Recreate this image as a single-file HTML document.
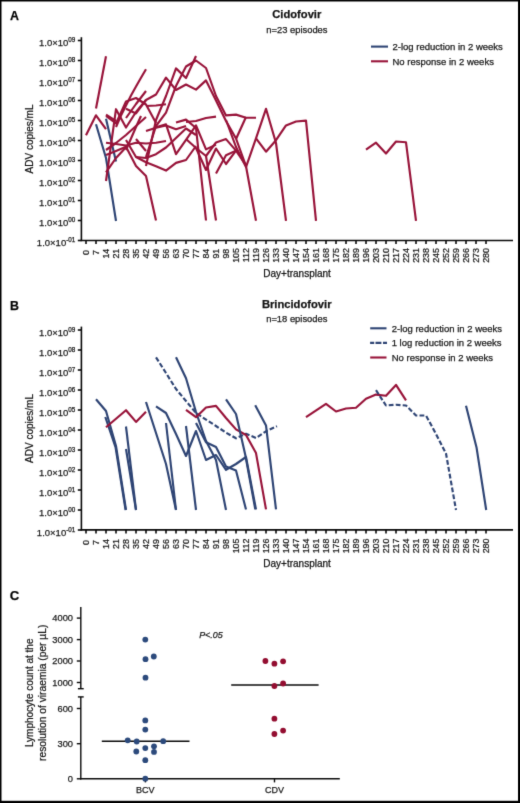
<!DOCTYPE html><html><head><meta charset="utf-8"><style>html,body{margin:0;padding:0;background:#fff}svg{display:block}text{font-family:"Liberation Sans",sans-serif;stroke:#1a1a1a;stroke-width:0.25px}</style></head><body>
<svg width="520" height="803" viewBox="0 0 520 803"><defs><filter id="bl" x="0" y="0" width="1" height="1" color-interpolation-filters="sRGB"><feConvolveMatrix order="3" kernelMatrix="0.0113 0.0838 0.0113 0.0838 0.6196 0.0838 0.0113 0.0838 0.0113" edgeMode="duplicate"/></filter></defs><g filter="url(#bl)">
<rect x="0" y="0" width="520" height="803" fill="#000"/>
<rect x="1.5" y="1.5" width="516.5" height="799.3" fill="#fff"/>
<g font-weight="bold" font-size="12.4" fill="#000">
<text x="9.9" y="20.2">A</text><text x="9.9" y="309.5">B</text><text x="9.7" y="599.6" font-size="13.2">C</text>
</g>
<g stroke="#0a0a0a" stroke-width="1.6" fill="none">
<line x1="81.4" y1="37.2" x2="81.4" y2="241.1"/>
<line x1="80.6" y1="240.5" x2="513" y2="240.5"/>
<line x1="77.8" y1="40.50" x2="81.4" y2="40.50"/>
<line x1="77.8" y1="60.50" x2="81.4" y2="60.50"/>
<line x1="77.8" y1="80.50" x2="81.4" y2="80.50"/>
<line x1="77.8" y1="100.50" x2="81.4" y2="100.50"/>
<line x1="77.8" y1="120.50" x2="81.4" y2="120.50"/>
<line x1="77.8" y1="140.50" x2="81.4" y2="140.50"/>
<line x1="77.8" y1="160.50" x2="81.4" y2="160.50"/>
<line x1="77.8" y1="180.50" x2="81.4" y2="180.50"/>
<line x1="77.8" y1="200.50" x2="81.4" y2="200.50"/>
<line x1="77.8" y1="220.50" x2="81.4" y2="220.50"/>
<line x1="77.8" y1="240.50" x2="81.4" y2="240.50"/>
<line x1="86" y1="240.5" x2="86" y2="244.1"/>
<line x1="96" y1="240.5" x2="96" y2="244.1"/>
<line x1="106" y1="240.5" x2="106" y2="244.1"/>
<line x1="116" y1="240.5" x2="116" y2="244.1"/>
<line x1="126" y1="240.5" x2="126" y2="244.1"/>
<line x1="136" y1="240.5" x2="136" y2="244.1"/>
<line x1="146" y1="240.5" x2="146" y2="244.1"/>
<line x1="156" y1="240.5" x2="156" y2="244.1"/>
<line x1="166" y1="240.5" x2="166" y2="244.1"/>
<line x1="176" y1="240.5" x2="176" y2="244.1"/>
<line x1="186" y1="240.5" x2="186" y2="244.1"/>
<line x1="196" y1="240.5" x2="196" y2="244.1"/>
<line x1="206" y1="240.5" x2="206" y2="244.1"/>
<line x1="216" y1="240.5" x2="216" y2="244.1"/>
<line x1="226" y1="240.5" x2="226" y2="244.1"/>
<line x1="236" y1="240.5" x2="236" y2="244.1"/>
<line x1="246" y1="240.5" x2="246" y2="244.1"/>
<line x1="256" y1="240.5" x2="256" y2="244.1"/>
<line x1="266" y1="240.5" x2="266" y2="244.1"/>
<line x1="276" y1="240.5" x2="276" y2="244.1"/>
<line x1="286" y1="240.5" x2="286" y2="244.1"/>
<line x1="296" y1="240.5" x2="296" y2="244.1"/>
<line x1="306" y1="240.5" x2="306" y2="244.1"/>
<line x1="316" y1="240.5" x2="316" y2="244.1"/>
<line x1="326" y1="240.5" x2="326" y2="244.1"/>
<line x1="336" y1="240.5" x2="336" y2="244.1"/>
<line x1="346" y1="240.5" x2="346" y2="244.1"/>
<line x1="356" y1="240.5" x2="356" y2="244.1"/>
<line x1="366" y1="240.5" x2="366" y2="244.1"/>
<line x1="376" y1="240.5" x2="376" y2="244.1"/>
<line x1="386" y1="240.5" x2="386" y2="244.1"/>
<line x1="396" y1="240.5" x2="396" y2="244.1"/>
<line x1="406" y1="240.5" x2="406" y2="244.1"/>
<line x1="416" y1="240.5" x2="416" y2="244.1"/>
<line x1="426" y1="240.5" x2="426" y2="244.1"/>
<line x1="436" y1="240.5" x2="436" y2="244.1"/>
<line x1="446" y1="240.5" x2="446" y2="244.1"/>
<line x1="456" y1="240.5" x2="456" y2="244.1"/>
<line x1="466" y1="240.5" x2="466" y2="244.1"/>
<line x1="476" y1="240.5" x2="476" y2="244.1"/>
<line x1="486" y1="240.5" x2="486" y2="244.1"/>
</g>
<g font-size="9.5" fill="#1a1a1a" text-anchor="end">
<text x="75.3" y="46.00">1.0×10<tspan font-size="6.3" dy="-3.7">09</tspan></text>
<text x="75.3" y="66.00">1.0×10<tspan font-size="6.3" dy="-3.7">08</tspan></text>
<text x="75.3" y="86.00">1.0×10<tspan font-size="6.3" dy="-3.7">07</tspan></text>
<text x="75.3" y="106.00">1.0×10<tspan font-size="6.3" dy="-3.7">06</tspan></text>
<text x="75.3" y="126.00">1.0×10<tspan font-size="6.3" dy="-3.7">05</tspan></text>
<text x="75.3" y="146.00">1.0×10<tspan font-size="6.3" dy="-3.7">04</tspan></text>
<text x="75.3" y="166.00">1.0×10<tspan font-size="6.3" dy="-3.7">03</tspan></text>
<text x="75.3" y="186.00">1.0×10<tspan font-size="6.3" dy="-3.7">02</tspan></text>
<text x="75.3" y="206.00">1.0×10<tspan font-size="6.3" dy="-3.7">01</tspan></text>
<text x="75.3" y="226.00">1.0×10<tspan font-size="6.3" dy="-3.7">00</tspan></text>
<text x="75.3" y="246.00">1.0×10<tspan font-size="6.3" dy="-3.7">-01</tspan></text>
</g>
<g font-size="8.9" fill="#1a1a1a" text-anchor="end">
<text transform="translate(89.3,250.1) rotate(-90)">0</text>
<text transform="translate(99.3,250.1) rotate(-90)">7</text>
<text transform="translate(109.3,248.7) rotate(-90)">14</text>
<text transform="translate(119.3,248.7) rotate(-90)">21</text>
<text transform="translate(129.3,248.7) rotate(-90)">28</text>
<text transform="translate(139.3,248.7) rotate(-90)">35</text>
<text transform="translate(149.3,248.7) rotate(-90)">42</text>
<text transform="translate(159.3,248.7) rotate(-90)">49</text>
<text transform="translate(169.3,248.7) rotate(-90)">56</text>
<text transform="translate(179.3,248.7) rotate(-90)">63</text>
<text transform="translate(189.3,248.7) rotate(-90)">70</text>
<text transform="translate(199.3,248.7) rotate(-90)">77</text>
<text transform="translate(209.3,248.7) rotate(-90)">84</text>
<text transform="translate(219.3,248.7) rotate(-90)">91</text>
<text transform="translate(229.3,248.7) rotate(-90)">98</text>
<text transform="translate(239.3,248.0) rotate(-90)">105</text>
<text transform="translate(249.3,248.0) rotate(-90)">112</text>
<text transform="translate(259.3,248.0) rotate(-90)">119</text>
<text transform="translate(269.3,248.0) rotate(-90)">126</text>
<text transform="translate(279.3,248.0) rotate(-90)">133</text>
<text transform="translate(289.3,248.0) rotate(-90)">140</text>
<text transform="translate(299.3,248.0) rotate(-90)">147</text>
<text transform="translate(309.3,248.0) rotate(-90)">154</text>
<text transform="translate(319.3,248.0) rotate(-90)">161</text>
<text transform="translate(329.3,248.0) rotate(-90)">168</text>
<text transform="translate(339.3,248.0) rotate(-90)">175</text>
<text transform="translate(349.3,248.0) rotate(-90)">182</text>
<text transform="translate(359.3,248.0) rotate(-90)">189</text>
<text transform="translate(369.3,248.0) rotate(-90)">196</text>
<text transform="translate(379.3,248.0) rotate(-90)">203</text>
<text transform="translate(389.3,248.0) rotate(-90)">210</text>
<text transform="translate(399.3,248.0) rotate(-90)">217</text>
<text transform="translate(409.3,248.0) rotate(-90)">224</text>
<text transform="translate(419.3,248.0) rotate(-90)">231</text>
<text transform="translate(429.3,248.0) rotate(-90)">238</text>
<text transform="translate(439.3,248.0) rotate(-90)">245</text>
<text transform="translate(449.3,248.0) rotate(-90)">252</text>
<text transform="translate(459.3,248.0) rotate(-90)">259</text>
<text transform="translate(469.3,248.0) rotate(-90)">266</text>
<text transform="translate(479.3,248.0) rotate(-90)">273</text>
<text transform="translate(489.3,248.0) rotate(-90)">280</text>
</g>
<g stroke="#0a0a0a" stroke-width="1.6" fill="none">
<line x1="81.4" y1="326.6" x2="81.4" y2="530.5"/>
<line x1="80.6" y1="529.9" x2="513" y2="529.9"/>
<line x1="77.8" y1="330.00" x2="81.4" y2="330.00"/>
<line x1="77.8" y1="350.00" x2="81.4" y2="350.00"/>
<line x1="77.8" y1="370.00" x2="81.4" y2="370.00"/>
<line x1="77.8" y1="390.00" x2="81.4" y2="390.00"/>
<line x1="77.8" y1="410.00" x2="81.4" y2="410.00"/>
<line x1="77.8" y1="430.00" x2="81.4" y2="430.00"/>
<line x1="77.8" y1="450.00" x2="81.4" y2="450.00"/>
<line x1="77.8" y1="470.00" x2="81.4" y2="470.00"/>
<line x1="77.8" y1="490.00" x2="81.4" y2="490.00"/>
<line x1="77.8" y1="510.00" x2="81.4" y2="510.00"/>
<line x1="77.8" y1="530.00" x2="81.4" y2="530.00"/>
<line x1="86" y1="529.9" x2="86" y2="533.5"/>
<line x1="96" y1="529.9" x2="96" y2="533.5"/>
<line x1="106" y1="529.9" x2="106" y2="533.5"/>
<line x1="116" y1="529.9" x2="116" y2="533.5"/>
<line x1="126" y1="529.9" x2="126" y2="533.5"/>
<line x1="136" y1="529.9" x2="136" y2="533.5"/>
<line x1="146" y1="529.9" x2="146" y2="533.5"/>
<line x1="156" y1="529.9" x2="156" y2="533.5"/>
<line x1="166" y1="529.9" x2="166" y2="533.5"/>
<line x1="176" y1="529.9" x2="176" y2="533.5"/>
<line x1="186" y1="529.9" x2="186" y2="533.5"/>
<line x1="196" y1="529.9" x2="196" y2="533.5"/>
<line x1="206" y1="529.9" x2="206" y2="533.5"/>
<line x1="216" y1="529.9" x2="216" y2="533.5"/>
<line x1="226" y1="529.9" x2="226" y2="533.5"/>
<line x1="236" y1="529.9" x2="236" y2="533.5"/>
<line x1="246" y1="529.9" x2="246" y2="533.5"/>
<line x1="256" y1="529.9" x2="256" y2="533.5"/>
<line x1="266" y1="529.9" x2="266" y2="533.5"/>
<line x1="276" y1="529.9" x2="276" y2="533.5"/>
<line x1="286" y1="529.9" x2="286" y2="533.5"/>
<line x1="296" y1="529.9" x2="296" y2="533.5"/>
<line x1="306" y1="529.9" x2="306" y2="533.5"/>
<line x1="316" y1="529.9" x2="316" y2="533.5"/>
<line x1="326" y1="529.9" x2="326" y2="533.5"/>
<line x1="336" y1="529.9" x2="336" y2="533.5"/>
<line x1="346" y1="529.9" x2="346" y2="533.5"/>
<line x1="356" y1="529.9" x2="356" y2="533.5"/>
<line x1="366" y1="529.9" x2="366" y2="533.5"/>
<line x1="376" y1="529.9" x2="376" y2="533.5"/>
<line x1="386" y1="529.9" x2="386" y2="533.5"/>
<line x1="396" y1="529.9" x2="396" y2="533.5"/>
<line x1="406" y1="529.9" x2="406" y2="533.5"/>
<line x1="416" y1="529.9" x2="416" y2="533.5"/>
<line x1="426" y1="529.9" x2="426" y2="533.5"/>
<line x1="436" y1="529.9" x2="436" y2="533.5"/>
<line x1="446" y1="529.9" x2="446" y2="533.5"/>
<line x1="456" y1="529.9" x2="456" y2="533.5"/>
<line x1="466" y1="529.9" x2="466" y2="533.5"/>
<line x1="476" y1="529.9" x2="476" y2="533.5"/>
<line x1="486" y1="529.9" x2="486" y2="533.5"/>
</g>
<g font-size="9.5" fill="#1a1a1a" text-anchor="end">
<text x="75.3" y="335.50">1.0×10<tspan font-size="6.3" dy="-3.7">09</tspan></text>
<text x="75.3" y="355.50">1.0×10<tspan font-size="6.3" dy="-3.7">08</tspan></text>
<text x="75.3" y="375.50">1.0×10<tspan font-size="6.3" dy="-3.7">07</tspan></text>
<text x="75.3" y="395.50">1.0×10<tspan font-size="6.3" dy="-3.7">06</tspan></text>
<text x="75.3" y="415.50">1.0×10<tspan font-size="6.3" dy="-3.7">05</tspan></text>
<text x="75.3" y="435.50">1.0×10<tspan font-size="6.3" dy="-3.7">04</tspan></text>
<text x="75.3" y="455.50">1.0×10<tspan font-size="6.3" dy="-3.7">03</tspan></text>
<text x="75.3" y="475.50">1.0×10<tspan font-size="6.3" dy="-3.7">02</tspan></text>
<text x="75.3" y="495.50">1.0×10<tspan font-size="6.3" dy="-3.7">01</tspan></text>
<text x="75.3" y="515.50">1.0×10<tspan font-size="6.3" dy="-3.7">00</tspan></text>
<text x="75.3" y="535.50">1.0×10<tspan font-size="6.3" dy="-3.7">-01</tspan></text>
</g>
<g font-size="8.9" fill="#1a1a1a" text-anchor="end">
<text transform="translate(89.3,540.0) rotate(-90)">0</text>
<text transform="translate(99.3,540.0) rotate(-90)">7</text>
<text transform="translate(109.3,539.1) rotate(-90)">14</text>
<text transform="translate(119.3,539.1) rotate(-90)">21</text>
<text transform="translate(129.3,539.1) rotate(-90)">28</text>
<text transform="translate(139.3,539.1) rotate(-90)">35</text>
<text transform="translate(149.3,539.1) rotate(-90)">42</text>
<text transform="translate(159.3,539.1) rotate(-90)">49</text>
<text transform="translate(169.3,539.1) rotate(-90)">56</text>
<text transform="translate(179.3,539.1) rotate(-90)">63</text>
<text transform="translate(189.3,539.1) rotate(-90)">70</text>
<text transform="translate(199.3,539.1) rotate(-90)">77</text>
<text transform="translate(209.3,539.1) rotate(-90)">84</text>
<text transform="translate(219.3,539.1) rotate(-90)">91</text>
<text transform="translate(229.3,539.1) rotate(-90)">98</text>
<text transform="translate(239.3,538.5) rotate(-90)">105</text>
<text transform="translate(249.3,538.5) rotate(-90)">112</text>
<text transform="translate(259.3,538.5) rotate(-90)">119</text>
<text transform="translate(269.3,538.5) rotate(-90)">126</text>
<text transform="translate(279.3,538.5) rotate(-90)">133</text>
<text transform="translate(289.3,538.5) rotate(-90)">140</text>
<text transform="translate(299.3,538.5) rotate(-90)">147</text>
<text transform="translate(309.3,538.5) rotate(-90)">154</text>
<text transform="translate(319.3,538.5) rotate(-90)">161</text>
<text transform="translate(329.3,538.5) rotate(-90)">168</text>
<text transform="translate(339.3,538.5) rotate(-90)">175</text>
<text transform="translate(349.3,538.5) rotate(-90)">182</text>
<text transform="translate(359.3,538.5) rotate(-90)">189</text>
<text transform="translate(369.3,538.5) rotate(-90)">196</text>
<text transform="translate(379.3,538.5) rotate(-90)">203</text>
<text transform="translate(389.3,538.5) rotate(-90)">210</text>
<text transform="translate(399.3,538.5) rotate(-90)">217</text>
<text transform="translate(409.3,538.5) rotate(-90)">224</text>
<text transform="translate(419.3,538.5) rotate(-90)">231</text>
<text transform="translate(429.3,538.5) rotate(-90)">238</text>
<text transform="translate(439.3,538.5) rotate(-90)">245</text>
<text transform="translate(449.3,538.5) rotate(-90)">252</text>
<text transform="translate(459.3,538.5) rotate(-90)">259</text>
<text transform="translate(469.3,538.5) rotate(-90)">266</text>
<text transform="translate(479.3,538.5) rotate(-90)">273</text>
<text transform="translate(489.3,538.5) rotate(-90)">280</text>
</g>
<g fill="#111" text-anchor="middle">
<text x="296.8" y="18" font-size="11.2" font-weight="bold">Cidofovir</text>
<text x="296.9" y="32.7" font-size="9.4" fill="#222">n=23 episodes</text>
<text x="296.7" y="307.7" font-size="11.2" font-weight="bold">Brincidofovir</text>
<text x="296.8" y="322.3" font-size="9.4" fill="#222">n=18 episodes</text>
<text x="297.1" y="276.9" font-size="10">Day+transplant</text>
<text x="297.1" y="566.7" font-size="10">Day+transplant</text>
<text transform="translate(33.2,139) rotate(-90)" font-size="10">ADV copies/mL</text>
<text transform="translate(33.2,428.5) rotate(-90)" font-size="10">ADV copies/mL</text>
</g>
<g stroke-width="2.1">
<line x1="371" y1="46.6" x2="388" y2="46.6" stroke="#2e4474"/>
<line x1="371" y1="61.3" x2="388" y2="61.3" stroke="#981339"/>
<line x1="370.2" y1="328.3" x2="386.5" y2="328.3" stroke="#2e4474"/>
<path d="M370.1 342.9H374.2M375.5 342.9H381.4M383 342.9H387" stroke="#2e4474"/>
<line x1="370.2" y1="357.5" x2="386.5" y2="357.5" stroke="#981339"/>
</g>
<g font-size="9.5" fill="#1a1a1a">
<text x="392.5" y="50">2-log reduction in 2 weeks</text>
<text x="392.5" y="64.6">No response in 2 weeks</text>
<text x="391.7" y="331.8">2-log reduction in 2 weeks</text>
<text x="391.7" y="346.3">1 log reduction in 2 weeks</text>
<text x="391.7" y="360.9">No response in 2 weeks</text>
</g>
<polyline points="96.0,108.5 106.0,56.2" fill="none" stroke="#981339" stroke-width="2.15" stroke-linejoin="round"/>
<polyline points="86.0,135.3 96.0,115.3 106.0,129.2" fill="none" stroke="#981339" stroke-width="2.15" stroke-linejoin="round"/>
<polyline points="96.0,124.2 106.0,158.0 116.0,221.0" fill="none" stroke="#2e4474" stroke-width="2.15" stroke-linejoin="round"/>
<polyline points="106.0,118.8 116.0,161.4" fill="none" stroke="#2e4474" stroke-width="2.15" stroke-linejoin="round"/>
<polyline points="366.0,149.6 376.0,142.7 386.0,153.5 396.0,141.5 406.0,142.3 416.0,220.8" fill="none" stroke="#981339" stroke-width="2.15" stroke-linejoin="round"/>
<polyline points="106.0,114.6 116.0,121.0" fill="none" stroke="#981339" stroke-width="2.15" stroke-linejoin="round"/>
<polyline points="116.0,127.0 121.0,115.5 126.0,105.5 131.0,95.5 136.0,86.5 141.0,77.8 146.0,69.2" fill="none" stroke="#981339" stroke-width="2.15" stroke-linejoin="round"/>
<polyline points="106.0,116.0 116.0,123.5 126.0,101.5 136.0,98.0 146.0,104.5 156.0,123.0" fill="none" stroke="#981339" stroke-width="2.15" stroke-linejoin="round"/>
<polyline points="146.0,106.0 156.0,105.5 166.0,104.2" fill="none" stroke="#981339" stroke-width="2.15" stroke-linejoin="round"/>
<polyline points="106.0,181.0 116.0,109.2 126.0,127.5 136.0,112.0 146.0,100.0" fill="none" stroke="#981339" stroke-width="2.15" stroke-linejoin="round"/>
<polyline points="126.0,150.0 136.0,127.0 141.0,116.0" fill="none" stroke="#981339" stroke-width="2.15" stroke-linejoin="round"/>
<polyline points="136.0,139.0 146.0,151.0" fill="none" stroke="#981339" stroke-width="2.15" stroke-linejoin="round"/>
<polyline points="126.0,118.0 136.0,104.0 146.0,91.0" fill="none" stroke="#981339" stroke-width="2.15" stroke-linejoin="round"/>
<polyline points="126.0,108.8 136.0,113.4 146.0,100.0 156.0,94.5 166.0,77.6 176.0,90.0 186.0,84.5 196.0,89.6 206.0,80.4 216.0,100.4 226.0,121.0 236.0,138.5 246.0,166.2 256.0,220.8" fill="none" stroke="#981339" stroke-width="2.15" stroke-linejoin="round"/>
<polyline points="146.0,166.0 156.0,120.0 166.0,96.0 176.0,68.4 186.0,78.0 196.0,56.0" fill="none" stroke="#981339" stroke-width="2.15" stroke-linejoin="round"/>
<polyline points="146.0,157.0 156.0,126.0 166.0,112.6 176.0,86.0 186.0,66.5 196.0,60.5 206.0,68.0 216.0,96.0 226.0,115.4 236.0,114.6 246.0,117.7 256.0,117.7" fill="none" stroke="#981339" stroke-width="2.15" stroke-linejoin="round"/>
<polyline points="106.0,142.7 116.0,144.0 126.0,145.5 136.0,142.8 146.0,143.5 156.0,142.8 166.0,141.0" fill="none" stroke="#981339" stroke-width="2.15" stroke-linejoin="round"/>
<polyline points="106.0,155.0 116.0,151.0 126.0,146.8 136.0,166.0 146.0,176.0 156.0,220.5" fill="none" stroke="#981339" stroke-width="2.15" stroke-linejoin="round"/>
<polyline points="106.0,172.4 116.0,158.0 126.0,147.2" fill="none" stroke="#981339" stroke-width="2.15" stroke-linejoin="round"/>
<polyline points="106.0,150.0 116.0,143.0 126.0,135.0 136.0,126.0 146.0,117.0" fill="none" stroke="#981339" stroke-width="2.15" stroke-linejoin="round"/>
<polyline points="126.0,140.0 136.0,157.0 146.0,162.3 156.0,166.3 166.0,170.6 176.0,162.9 186.0,160.0 196.0,146.0" fill="none" stroke="#981339" stroke-width="2.15" stroke-linejoin="round"/>
<polyline points="136.0,157.0 146.0,158.0 156.0,154.2 166.0,147.5 176.0,138.0 186.0,128.5 196.0,135.0" fill="none" stroke="#981339" stroke-width="2.15" stroke-linejoin="round"/>
<polyline points="156.0,127.3 166.0,124.4 176.0,154.2 186.0,139.8 196.0,125.4 206.0,149.4 216.0,144.6" fill="none" stroke="#981339" stroke-width="2.15" stroke-linejoin="round"/>
<polyline points="176.0,122.5 186.0,119.6 196.0,128.0 206.0,220.5" fill="none" stroke="#981339" stroke-width="2.15" stroke-linejoin="round"/>
<polyline points="186.0,122.0 196.0,121.0 206.0,118.0 216.0,116.6" fill="none" stroke="#981339" stroke-width="2.15" stroke-linejoin="round"/>
<polyline points="186.0,139.0 196.0,148.0 206.0,156.0 216.0,220.5" fill="none" stroke="#981339" stroke-width="2.15" stroke-linejoin="round"/>
<polyline points="196.0,148.0 206.0,170.0 216.0,148.5 226.0,164.0 236.0,150.6 246.0,165.4" fill="none" stroke="#981339" stroke-width="2.15" stroke-linejoin="round"/>
<polyline points="206.0,156.0 216.0,142.5 226.0,139.1 236.0,150.6" fill="none" stroke="#981339" stroke-width="2.15" stroke-linejoin="round"/>
<polyline points="216.0,173.5 226.0,155.3 236.0,150.6" fill="none" stroke="#981339" stroke-width="2.15" stroke-linejoin="round"/>
<polyline points="226.0,120.0 236.0,147.0 246.0,167.1 256.0,138.3 266.0,108.8 276.0,143.0 286.0,220.8" fill="none" stroke="#981339" stroke-width="2.15" stroke-linejoin="round"/>
<polyline points="256.0,138.3 266.0,151.7 276.0,140.2 286.0,125.4 296.0,121.5 306.0,120.6 316.0,220.8" fill="none" stroke="#981339" stroke-width="2.15" stroke-linejoin="round"/>
<polyline points="236.0,139.0 246.0,117.0" fill="none" stroke="#981339" stroke-width="2.15" stroke-linejoin="round"/>
<polyline points="146.0,131.0 156.0,127.7 166.0,125.4 176.0,129.2 186.0,126.0" fill="none" stroke="#981339" stroke-width="2.15" stroke-linejoin="round"/>
<polyline points="96.0,399.3 106.0,411.0 116.0,446.0 126.0,510.0" fill="none" stroke="#2e4474" stroke-width="2.15" stroke-linejoin="round"/>
<polyline points="105.3,417.0 115.6,447.5 125.6,510.0" fill="none" stroke="#2e4474" stroke-width="2.15" stroke-linejoin="round"/>
<polyline points="106.0,427.3 126.0,410.2 136.0,421.9 146.0,411.8" fill="none" stroke="#981339" stroke-width="2.15" stroke-linejoin="round"/>
<polyline points="126.0,426.5 136.0,510.0" fill="none" stroke="#2e4474" stroke-width="2.15" stroke-linejoin="round"/>
<polyline points="126.0,449.0 136.0,510.0" fill="none" stroke="#2e4474" stroke-width="2.15" stroke-linejoin="round"/>
<polyline points="146.0,402.0 156.0,433.0 166.0,464.0 176.0,510.0" fill="none" stroke="#2e4474" stroke-width="2.15" stroke-linejoin="round"/>
<polyline points="156.0,406.4 166.0,413.0 176.0,434.0 186.0,456.0 196.0,431.0 206.0,460.0 216.0,455.0 226.0,469.8 236.0,464.0 246.0,457.0 256.0,509.4" fill="none" stroke="#2e4474" stroke-width="2.15" stroke-linejoin="round"/>
<polyline points="166.0,423.0 176.0,510.0" fill="none" stroke="#2e4474" stroke-width="2.15" stroke-linejoin="round"/>
<polyline points="186.0,426.0 196.0,510.0" fill="none" stroke="#2e4474" stroke-width="2.15" stroke-linejoin="round"/>
<polyline points="156.0,357.3 166.0,373.0 176.0,389.0 186.0,401.0 196.0,413.0 206.0,419.6 216.0,426.0 226.0,432.6 236.0,438.3 246.0,433.8 256.0,438.0 266.0,431.3 277.0,426.2" fill="none" stroke="#2e4474" stroke-width="2.15" stroke-linejoin="round" stroke-dasharray="4.8 2.2"/>
<polyline points="176.0,357.3 186.0,378.3 196.0,412.0 206.0,441.0 216.0,460.0 226.0,510.0" fill="none" stroke="#2e4474" stroke-width="2.15" stroke-linejoin="round"/>
<polyline points="186.0,409.9 196.0,417.2 206.0,407.5 216.0,405.9 226.0,418.0 236.0,429.4 246.0,435.0 256.0,453.1 266.0,509.4" fill="none" stroke="#981339" stroke-width="2.15" stroke-linejoin="round"/>
<polyline points="226.0,399.4 236.0,414.0 245.3,455.0 255.3,509.4" fill="none" stroke="#2e4474" stroke-width="2.15" stroke-linejoin="round"/>
<polyline points="196.0,422.9 206.0,442.3 216.0,447.0 226.0,466.6 236.0,470.6 246.0,509.4" fill="none" stroke="#2e4474" stroke-width="2.15" stroke-linejoin="round"/>
<polyline points="255.2,405.2 266.0,425.4 276.0,509.4" fill="none" stroke="#2e4474" stroke-width="2.15" stroke-linejoin="round"/>
<polyline points="306.0,417.2 326.0,403.8 336.0,411.5 346.0,408.5 356.0,407.8 366.0,398.8 376.0,394.6 386.0,395.8 396.0,384.9 406.0,400.4" fill="none" stroke="#981339" stroke-width="2.15" stroke-linejoin="round"/>
<polyline points="376.0,390.2 386.0,405.5 396.0,404.7 406.0,405.5 416.0,415.5 426.0,415.5 436.0,434.0 446.0,453.5 456.0,510.0" fill="none" stroke="#2e4474" stroke-width="2.15" stroke-linejoin="round" stroke-dasharray="4.8 2.2"/>
<polyline points="466.0,405.7 476.6,447.8 486.2,510.0" fill="none" stroke="#2e4474" stroke-width="2.15" stroke-linejoin="round"/>
<g stroke="#0a0a0a" stroke-width="1.4" fill="none">
<line x1="80.8" y1="606.9" x2="80.8" y2="688.7"/>
<line x1="77.9" y1="688.7" x2="83.7" y2="688.7"/>
<line x1="77.9" y1="696.9" x2="83.7" y2="696.9"/>
<line x1="80.8" y1="696.9" x2="80.8" y2="779.4"/>
<line x1="80.1" y1="778.8" x2="339.8" y2="778.8"/>
<line x1="76.8" y1="618.1" x2="80.8" y2="618.1"/>
<line x1="76.8" y1="639.6" x2="80.8" y2="639.6"/>
<line x1="76.8" y1="661.0" x2="80.8" y2="661.0"/>
<line x1="76.8" y1="682.5" x2="80.8" y2="682.5"/>
<line x1="76.8" y1="708.5" x2="80.8" y2="708.5"/>
<line x1="76.8" y1="743.7" x2="80.8" y2="743.7"/>
<line x1="76.8" y1="778.8" x2="80.8" y2="778.8"/>
<line x1="145.4" y1="778.8" x2="145.4" y2="782.4"/>
<line x1="274.5" y1="778.8" x2="274.5" y2="782.4"/>
<line x1="101.8" y1="741.3" x2="189.5" y2="741.3"/>
<line x1="231.2" y1="685" x2="318.6" y2="685"/>
</g>
<g font-size="9.3" fill="#1a1a1a" text-anchor="end">
<text x="73" y="621.4">4000</text>
<text x="73" y="642.9">3000</text>
<text x="73" y="664.3">2000</text>
<text x="73" y="685.8">1000</text>
<text x="73" y="711.8">600</text>
<text x="73" y="747.0">300</text>
<text x="73" y="782.1">0</text>
</g>
<g font-size="10" fill="#1a1a1a" text-anchor="middle">
<text transform="translate(32.7,692.8) rotate(-90)">Lymphocyte count at the</text>
<text transform="translate(45.9,692.8) rotate(-90)" font-size="10.25">resolution of viraemia (per µL)</text>
</g>
<g font-size="9" fill="#1a1a1a" text-anchor="middle">
<text x="145.2" y="792.9">BCV</text><text x="274.4" y="792.9">CDV</text>
</g>
<text x="199.2" y="637.9" font-size="8.9" font-style="italic" fill="#1a1a1a">P&lt;.05</text>
<g fill="#2c4a7c">
<circle cx="145.3" cy="639.6" r="2.9"/>
<circle cx="145.5" cy="659.2" r="2.9"/>
<circle cx="153.8" cy="656.5" r="2.9"/>
<circle cx="145.5" cy="677.7" r="2.9"/>
<circle cx="145.3" cy="720.4" r="2.9"/>
<circle cx="145.3" cy="729.6" r="2.9"/>
<circle cx="127.7" cy="740.3" r="2.9"/>
<circle cx="136.7" cy="741.5" r="2.9"/>
<circle cx="163.2" cy="741.2" r="2.9"/>
<circle cx="145.3" cy="748.1" r="2.9"/>
<circle cx="154" cy="746.3" r="2.9"/>
<circle cx="154" cy="751.9" r="2.9"/>
<circle cx="136.3" cy="751.5" r="2.9"/>
<circle cx="145.3" cy="760.2" r="2.9"/>
<circle cx="145.3" cy="778.7" r="2.9"/>
</g>
<g fill="#930d30">
<circle cx="265.4" cy="661" r="2.9"/>
<circle cx="274.4" cy="663.7" r="2.9"/>
<circle cx="283.1" cy="661.3" r="2.9"/>
<circle cx="274.4" cy="686" r="2.9"/>
<circle cx="283.1" cy="683.5" r="2.9"/>
<circle cx="274.4" cy="718.7" r="2.9"/>
<circle cx="283.1" cy="730.6" r="2.9"/>
<circle cx="274.4" cy="734" r="2.9"/>
</g>
</g></svg></body></html>
